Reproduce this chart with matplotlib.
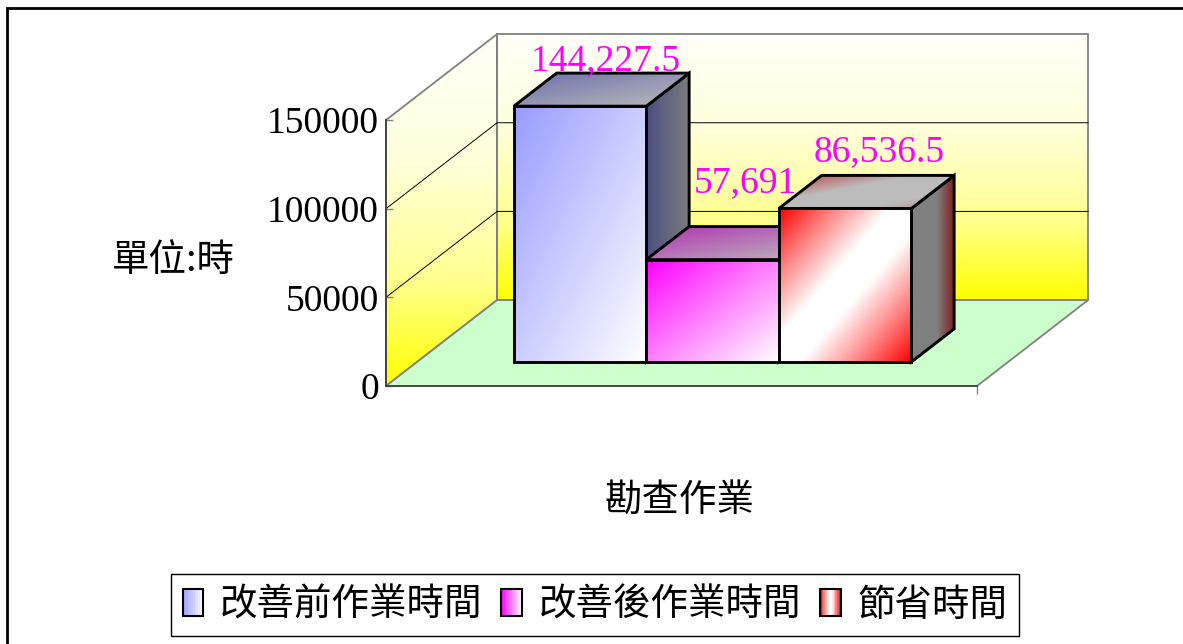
import numpy as np
import matplotlib
matplotlib.use('Agg')
import matplotlib.pyplot as plt
from matplotlib.patches import Polygon, Rectangle
from matplotlib.colors import LinearSegmentedColormap
from matplotlib.legend_handler import HandlerBase

# data
category = '勘查作業'
series = ['改善前作業時間', '改善後作業時間', '節省時間']
values = [144227.5, 57691, 86536.5]
y_ticks = [0, 50000, 100000, 150000]
y_unit = '單位:時'

# styles (front, top, side gradients for each series)
front_stops = [
    [(0, '#989cff'), (1, '#ffffff')],
    [(0, '#ff00ff'), (1, '#ffffff')],
    [(0, '#ff0000'), (0.2, '#ff8080'), (0.42, '#ffffff'), (0.58, '#ffffff'),
     (0.8, '#ff8080'), (1, '#ff0000')],
]
top_stops = [
    [(0, '#6a6eaa'), (1, '#bcbcbc')],
    [(0, '#b030b0'), (1, '#bcbcbc')],
    [(0, '#c03030'), (0.4, '#bcbcbc'), (0.75, '#bcbcbc'), (1, '#c08080')],
]
side_stops = [
    [(0, '#4a4e80'), (1, '#7c7c7c')],
    [(0, '#a030a0'), (1, '#7c7c7c')],
    [(0, '#808080'), (0.6, '#808080'), (1, '#802020')],
]
wall_stops = [(0, '#fffffa'), (0.35, '#ffffdc'), (0.7, '#ffff90'), (1, '#ffff00')]

W, H = 1183, 644
CJK = ['Noto Sans CJK TC', 'DejaVu Sans']
SERIF = 'Liberation Serif'

fig = plt.figure(figsize=(W / 100, H / 100), dpi=100)
fig.patch.set_facecolor('white')
ax = fig.add_axes([386 / W, 1 - 386 / H, 591 / W, 266 / H])
ax.set_facecolor('none')

gap = 0.73
x0, x1 = -gap, len(values) + gap
y0, y1 = y_ticks[0], y_ticks[-1]
DX = 0.188 * (x1 - x0)
DY = 0.323 * (y1 - y0)
f0, f1 = 0.28, 0.665


def shade(verts, stops, mode, z, ec='black', lw=2.1):
    verts = np.asarray(verts, float)
    (xa, ya), (xb, yb) = verts.min(0), verts.max(0)
    u, v = np.meshgrid(np.linspace(0, 1, 150), np.linspace(0, 1, 150))
    if mode == 'diag':
        t = (u + (1 - v)) / 2
    elif mode == 'horiz':
        t = u
    else:
        t = 1 - v
    cmap = LinearSegmentedColormap.from_list('', stops)
    im = ax.imshow(t, cmap=cmap, vmin=0, vmax=1, origin='lower',
                   extent=(xa, xb, ya, yb), aspect='auto',
                   interpolation='bilinear', zorder=z)
    im.set_clip_path(Polygon(verts, transform=ax.transData))
    im.set_clip_box(fig.bbox)
    if ec is not None:
        ax.add_patch(Polygon(verts, fill=False, ec=ec, lw=lw, zorder=z + 0.01,
                             clip_on=False, joinstyle='miter'))


# walls and floor
back = [(x0 + DX, y0 + DY), (x1 + DX, y0 + DY), (x1 + DX, y1 + DY), (x0 + DX, y1 + DY)]
left = [(x0, y0), (x0 + DX, y0 + DY), (x0 + DX, y1 + DY), (x0, y1)]
floor = [(x0, y0), (x1, y0), (x1 + DX, y0 + DY), (x0 + DX, y0 + DY)]
shade(back, wall_stops, 'vert', 1, ec='#808080', lw=1.3)
shade(left, wall_stops, 'vert', 1, ec='#808080', lw=1.3)
ax.add_patch(Polygon(floor, fc='#ccffcc', ec='#808080', lw=1.3, zorder=1.5, clip_on=False))

for v in y_ticks[1:-1]:
    ax.plot([x0, x0 + DX, x1 + DX], [v, v + DY, v + DY], color='black', lw=0.7,
            zorder=2, clip_on=False)

# bars
ddx, ddy = (f1 - f0) * DX, (f1 - f0) * DY
label_offsets = [(4, 3), (11, 34), (13, 14)]
for i, v in enumerate(values):
    xl, xr = i + f0 * DX, i + 1 + f0 * DX
    yb, yt = y0 + f0 * DY, v + f0 * DY
    z = 10 + 3 * i
    side = [(xr, yb), (xr + ddx, yb + ddy), (xr + ddx, yt + ddy), (xr, yt)]
    top = [(xl, yt), (xr, yt), (xr + ddx, yt + ddy), (xl + ddx, yt + ddy)]
    front = [(xl, yb), (xr, yb), (xr, yt), (xl, yt)]
    shade(side, side_stops[i], 'horiz', z)
    shade(top, top_stops[i], 'diag', z + 1)
    shade(front, front_stops[i], 'diag', z + 2)

    txt = f'{v:,.1f}'
    if txt.endswith('.0'):
        txt = txt[:-2]
    ax.annotate(txt, xy=((xl + xr) / 2 + ddx / 2, yt + ddy),
                xytext=label_offsets[i], textcoords='offset pixels',
                ha='center', va='baseline', color='#ff00ff', fontsize=27,
                family=SERIF, annotation_clip=False, zorder=30)

ax.set_xlim(x0, x1)
ax.set_ylim(y0, y1)
ax.set_yticks(y_ticks)
ax.set_yticklabels([f'{t:d}' for t in y_ticks])
ax.set_xticks([x1])
ax.set_xticklabels([''])
ax.tick_params(axis='y', direction='in', length=5, color='#808080', width=1,
               labelsize=27, pad=5)
ax.tick_params(axis='x', direction='out', length=6, color='#808080', width=1)
for t in ax.get_yticklabels():
    t.set_fontfamily(SERIF)
for s in ['top', 'right']:
    ax.spines[s].set_visible(False)
for s in ['left', 'bottom']:
    ax.spines[s].set_color('#404040')
    ax.spines[s].set_linewidth(1.3)
    ax.spines[s].set_zorder(3)

fig.text(173 / W, 1 - 260 / H, y_unit, ha='center', va='center', fontsize=27, family=CJK)
fig.text(679 / W, 1 - 500 / H, category, ha='center', va='center', fontsize=27, family=CJK)


# legend with gradient swatches
class Swatch:
    def __init__(self, stops):
        self.stops = stops


class GradHandler(HandlerBase):
    def create_artists(self, legend, orig_handle, xdescent, ydescent,
                       width, height, fontsize, trans):
        cmap = LinearSegmentedColormap.from_list('', orig_handle.stops)
        x, y = -xdescent, -ydescent
        n = 12
        arts = [Rectangle((x + k * width / n, y), width / n, height,
                          fc=cmap((k + 0.5) / n), ec='none', transform=trans)
                for k in range(n)]
        arts.append(Rectangle((x, y), width, height, fill=False, ec='black',
                              lw=1.5, transform=trans))
        return arts


handles = [Swatch(s) for s in front_stops]
leg = fig.legend(handles, series, handler_map={Swatch: GradHandler()},
                 loc='center', bbox_to_anchor=(595 / W, 1 - 605 / H), ncol=3,
                 prop={'family': CJK, 'size': 27}, frameon=True, fancybox=False,
                 edgecolor='black', framealpha=1, handlelength=0.55,
                 handleheight=0.7, handletextpad=0.45, columnspacing=0.5,
                 borderpad=0.3, borderaxespad=0)
leg.get_frame().set_linewidth(1)

fig.patches.append(Rectangle((7 / W, -0.05), 1.1, 1 - 8 / H + 0.05,
                             transform=fig.transFigure, fill=False, ec='black', lw=2))

fig.savefig('out.png', dpi=100)
